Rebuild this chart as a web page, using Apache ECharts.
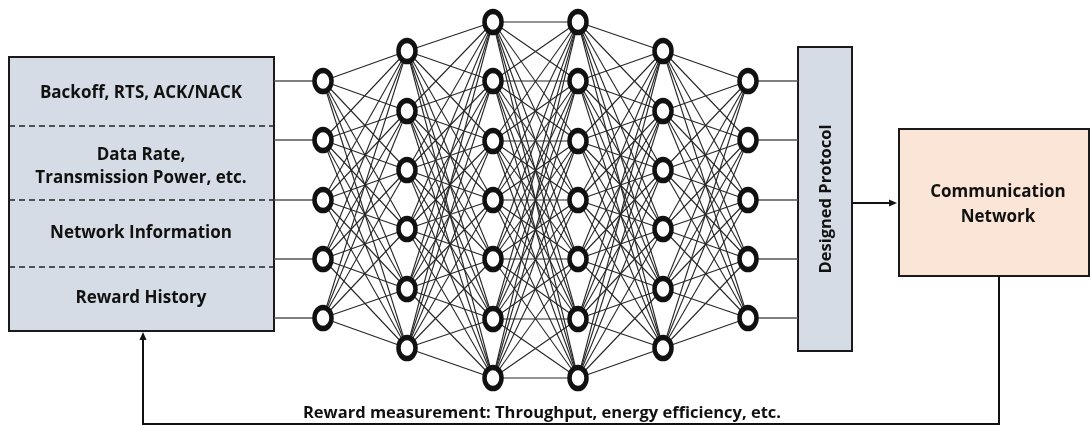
<!DOCTYPE html>
<html>
<head>
<meta charset="utf-8">
<script src="https://cdn.jsdelivr.net/npm/echarts@6/dist/echarts.min.js"></script>
<style>
  html, body { margin: 0; padding: 0; background: #fff; }
  #chart { width: 1091px; height: 426px; }
</style>
</head>
<body>
<div id="chart"></div>
<script>
// diagram units = reference pixels
const layerX = [323, 407, 493, 578, 663, 748];
const layerY = [
    [81, 140, 200, 259, 318],
    [51, 111, 170, 229, 289, 348],
    [22, 81, 141, 200, 259, 319, 378],
    [22, 81, 141, 200, 259, 319, 378],
    [51, 111, 170, 229, 289, 348],
    [81, 140, 200, 259, 318]
];

// [x0, y0, x1, y1, kind]
const boxes = [
    [9, 57, 274, 331, 0],
    [798, 47, 852, 351, 0],
    [899, 129, 1089, 276, 1]
];
const dividerY = [126, 200, 267];

// [x, y, text, rotated, size]
const labels = [
    [141, 93, "Backoff, RTS, ACK/NACK", 0, 17],
    [141, 155, "Data Rate,", 0, 17],
    [141, 178, "Transmission Power, etc.", 0, 17],
    [141, 233, "Network Information", 0, 17],
    [141, 298, "Reward History", 0, 17],
    [826, 199, "Designed Protocol", 1, 16.5],
    [998, 192, "Communication", 0, 17],
    [998, 217, "Network", 0, 17],
    [542, 413, "Reward measurement: Throughput, energy efficiency, etc.", 0, 16.5]
];

// arrows as polylines, arrowhead at the last point
const arrows = [
    [[852, 203], [897, 203]],
    [[999, 276], [999, 424], [143, 424], [143, 332]]
];
const boxLeftEdge = 274;
const boxRightEdge = 798;

const boxFill = ["#d6dce5", "#fbe5d6"];

// build edges from the node arrays
const edges = [];
for (let l = 0; l < layerX.length - 1; l++) {
    layerY[l].forEach(function (ya) {
        layerY[l + 1].forEach(function (yb) {
            edges.push([layerX[l], ya, layerX[l + 1], yb]);
        });
    });
}
const sideLines = [];
layerY[0].forEach(function (y) { sideLines.push([boxLeftEdge, y, layerX[0], y]); });
layerY[layerY.length - 1].forEach(function (y) {
    sideLines.push([layerX[layerX.length - 1], y, boxRightEdge, y]);
});
const nodes = [];
layerX.forEach(function (x, i) {
    layerY[i].forEach(function (y) { nodes.push([x, y]); });
});

const chart = echarts.init(document.getElementById("chart"), null, { renderer: "canvas" });

const font = "'Open Sans', 'Noto Sans', sans-serif";

function lineItem(stroke, width, dash) {
    return function (params, api) {
        const a = api.coord([api.value(0), api.value(1)]);
        const b = api.coord([api.value(2), api.value(3)]);
        return {
            type: "line",
            shape: { x1: a[0], y1: a[1], x2: b[0], y2: b[1] },
            style: { stroke: stroke, lineWidth: width, lineDash: dash || null }
        };
    };
}

chart.setOption({
    animation: false,
    backgroundColor: "#fff",
    grid: { left: 0, right: 0, top: 0, bottom: 0 },
    xAxis: { type: "value", min: 0, max: 1091, show: false },
    yAxis: { type: "value", min: 0, max: 426, inverse: true, show: false },
    series: [
        {
            type: "custom",
            name: "boxes",
            data: boxes,
            z: 1,
            renderItem: function (params, api) {
                const a = api.coord([api.value(0), api.value(1)]);
                const b = api.coord([api.value(2), api.value(3)]);
                return {
                    type: "rect",
                    shape: { x: a[0], y: a[1], width: b[0] - a[0], height: b[1] - a[1] },
                    style: { fill: boxFill[api.value(4)], stroke: "#1a1a1a", lineWidth: 2 }
                };
            }
        },
        {
            type: "custom",
            name: "dividers",
            data: dividerY.map(function (y) { return [boxes[0][0], y, boxes[0][2], y]; }),
            z: 2,
            renderItem: lineItem("#222", 1.5, [6, 4])
        },
        {
            type: "custom",
            name: "sides",
            data: sideLines,
            z: 2,
            renderItem: lineItem("#555", 1.5)
        },
        {
            type: "custom",
            name: "edges",
            data: edges,
            z: 2,
            renderItem: lineItem("#262626", 1.1)
        },
        {
            type: "scatter",
            name: "nodes",
            data: nodes,
            z: 3,
            symbol: "path://M0,10A10,10,0,1,1,20,10A10,10,0,1,1,0,10Z",
            symbolSize: [17, 21],
            itemStyle: { color: "#fff", borderColor: "#111", borderWidth: 5, opacity: 1 }
        },
        {
            type: "custom",
            name: "arrows",
            data: arrows.map(function (pts, i) { return [i]; }),
            z: 4,
            renderItem: function (params, api) {
                const pts = arrows[api.value(0)].map(function (p) { return api.coord(p); });
                const n = pts.length;
                const end = pts[n - 1], prev = pts[n - 2];
                const ang = Math.atan2(end[1] - prev[1], end[0] - prev[0]);
                const len = 8, half = 3.5;
                const bx = end[0] - len * Math.cos(ang), by = end[1] - len * Math.sin(ang);
                const head = [
                    end,
                    [bx - half * Math.sin(ang), by + half * Math.cos(ang)],
                    [bx + half * Math.sin(ang), by - half * Math.cos(ang)]
                ];
                const body = pts.slice(0, n - 1).concat([[bx, by]]);
                return {
                    type: "group",
                    children: [
                        { type: "polyline", shape: { points: body }, style: { stroke: "#111", lineWidth: 2, fill: null } },
                        { type: "polygon", shape: { points: head }, style: { fill: "#111" } }
                    ]
                };
            }
        },
        {
            type: "custom",
            name: "labels",
            data: labels,
            z: 5,
            renderItem: function (params, api) {
                const p = api.coord([api.value(0), api.value(1)]);
                const item = labels[params.dataIndex];
                return {
                    type: "text",
                    x: p[0],
                    y: p[1],
                    rotation: item[3] ? Math.PI / 2 : 0,
                    style: {
                        text: item[2],
                        fill: "#111",
                        font: "bold " + item[4] + "px " + font,
                        align: "center",
                        verticalAlign: "middle"
                    }
                };
            }
        }
    ]
});
</script>
</body>
</html>
